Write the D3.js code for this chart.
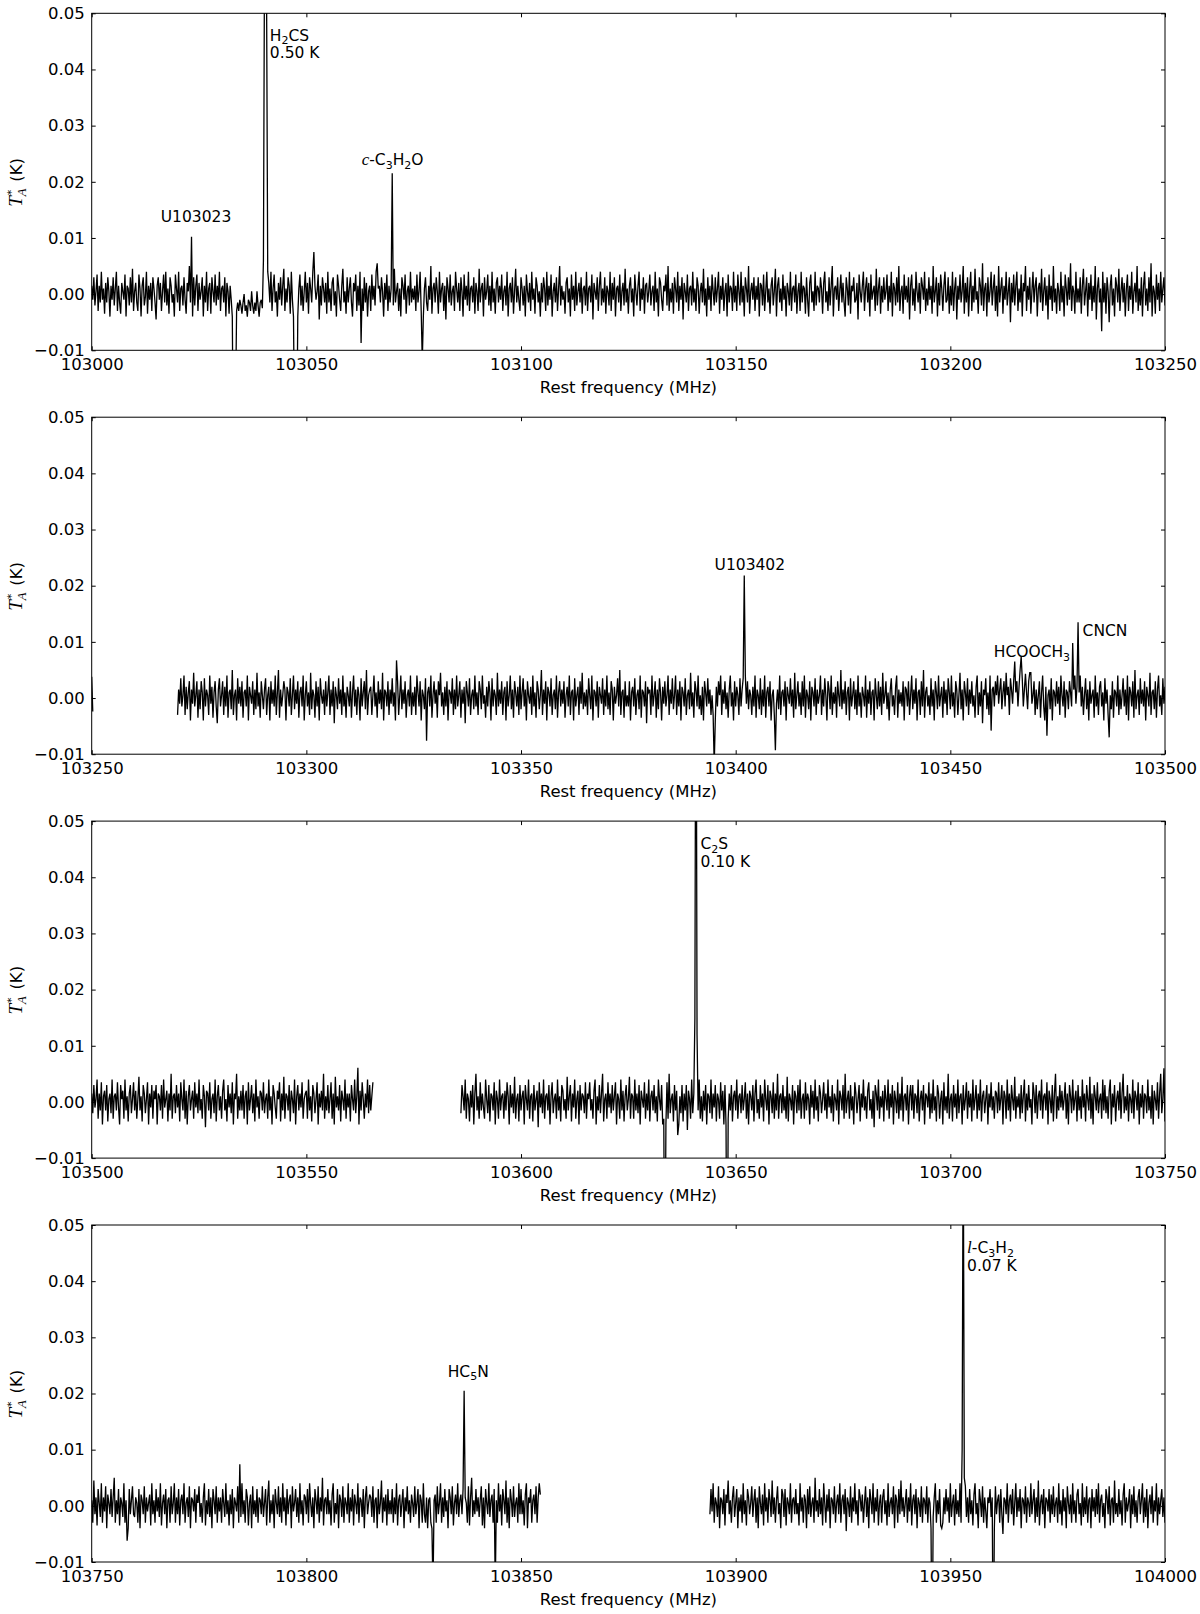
<!DOCTYPE html>
<html>
<head>
<meta charset="utf-8">
<script src="https://cdn.jsdelivr.net/npm/d3@7"></script>
<style>
  body { margin: 0; background: #fff; }
</style>
</head>
<body>
<script>
// channel spacing of the spectra, MHz
const step = 0.25;

// antenna temperature per channel, mK
const seg1 = [
  1.5,-1,3,-2,0.5,3.5,-3,1.5,-1.5,4,-1,1,-3.5,2,-1.5,3,0.5,-4,1.5,-1,
  3,-2,1,4,-3,1.5,-1.5,-3.5,2,0.5,-1,3.5,-4,1.5,1,-2,3,-1.5,4.5,-3,
  0.5,2,-1.5,-3,3.5,1,-4,1.5,3,-2,-0.5,4,-3.5,1.5,-1,2,-3,3,1,-1.5,
  -4.5,1.5,3,-1,2,-3,0.5,3.5,-1.5,4,-2,1,-3.5,3,1.5,-1.5,0,-4,3.5,1,
  -1.5,4,-3,1,1.5,-2,3,-1,-3.5,2,0.5,5,-1.5,1,-4,3,-2,1.5,3.5,-3,
  2,-1,0.5,3,-4,1.5,-1.5,4,-3,1,2,-3.5,3,0.5,-1.5,3.5,-2,1.5,-1,4,
  -3,1,1.5,-1.5,3,-4,2,0.5,-3.5,1.5,-1,3,-2,1,-3,1.5,-1.5,-3,-1,-2,
  -3.5,-1.5,0,-3,-2,-4,-1,-1.5,-3,0.5,-2,-3.5,-1.5,-3,0.5,-2,-4,-1.5,-1,-2.5,
  1.5,-2,3,0.5,-3.5,2,-1.5,4,-3,1,3.5,-1.5,0.5,-4,2,-1,3,-2,1.5,4.5,
  -3,1,-1.5,3,1.5,-3.5,4,-1,0.5,2,-4,3,-1.5,1,3.5,-2,1.5,-3,0.5,4,
  -1.5,2,-3.5,3,1,-1.5,4,-3,1.5,-1,0.5,3.5,-4.5,1.5,-2,3,1,-1.5,2,-3.5,
  4,-1.5,1,-3,2,3,-2,0.5,-4,3.5,1.5,-1,-3,1.5,4.5,-1.5,0.5,-3.5,3,-1.5,
  1,3,-1.5,-4,2,0.5,3.5,-3,1.5,-2,4,-1,1,-3,3,-1.5,2,-4,0.5,1.5,
  -3,3.5,-1,1.5,-2,4,-3.5,1,1.5,-1.5,3,0.5,-4,2,-1,3.5,-3,1.5,-1.5,1,
  3,-2,4.5,-1.5,0.5,2,-3,1,-4,3,1.5,-1,3.5,-3.5,0.5,1.5,-2,4,-1.5,1,
  -1,1.5,-3,3.5,-1.5,0.5,4,-2,2,-4,1,3,-1.5,-3,1.5,-1,5,-3.5,1,2,
  -1.5,3,0.5,-3.5,4,-1.5,1,2,-3,1.5,-4.5,3,1,-1.5,3.5,-2,0.5,1.5,-3,4,
  1,-1.5,2,-3,3,0.5,-4,3.5,-1,1.5,-2,4,-3,1,1.5,-1.5,3,-3.5,2,0.5,
  -3,4.5,-1.5,1,2,-4,3,-1,0.5,3.5,-2,1.5,-3,4,-1.5,1,-3.5,2,3,-1.5,
  1.5,-1,3.5,-3,0.5,1.5,-2,4,-4,1,2,-1.5,3,-3.5,0.5,4.5,-1.5,1.5,-1,-3,
  3,1,-2,1.5,-4,3.5,0.5,-1.5,2,-3,4,-1,1,-3.5,3,1.5,-1.5,0.5,-4,2,
  -1.5,3,1,-3,4,-2,1.5,-1,3.5,-4,0.5,2,-1.5,3,-3,1,5,-2,1.5,-1,
  0.5,-3.5,2,3,-1.5,1,-4,3.5,-1,1.5,-3,4,-2,0.5,2,-1.5,3,-3.5,1,1.5,
  -2,4,-3,1,1.5,-1.5,3.5,-4.5,2,0.5,-1,3,-3,1.5,4,-2,1,-1.5,3,-3.5,
  1.5,0.5,-2,4,-3,2,-1,3,-4,1,1.5,-1.5,3.5,-3,0.5,2,-2,4.5,-1.5,1,
  -3.5,1.5,3,-1.5,1,-4,3.5,0.5,-2,1.5,4,-3,1,-1,3,-3.5,1.5,2,-1.5,0.5,
  3.5,-2,0.5,1.5,-3,4,-1.5,1,-4,3,2,-1,-3,1.5,0.5,3.5,-2,5,-3,1,
  -1.5,2,-3.5,3,1,-1.5,4,-3,1.5,-1,3,-4.5,2,0.5,-1.5,3.5,-3,1,1.5,-2,
  4,-1.5,1,-3,3,1.5,-3.5,0.5,2,-1.5,4.5,-2,1,-4,3,-1,1.5,-3,3.5,0.5,
  -2,3,-1.5,1,4,-3.5,1.5,-1,3,-3,0.5,2,-4,3.5,-1.5,1.5,1,-3,4,-1.5,
  1.5,-3,3.5,0.5,-2,4,-1.5,1.5,-4,3,1,-1.5,5,-3.5,0.5,2,-1,3,-3,1.5,
  -1,3,-4,2,1.5,-2,3.5,-3,0.5,4,-1.5,1,-3.5,1.5,3,-2,0.5,4.5,-4,1.5,
  3,-1.5,1,-3,3.5,-1,1.5,-4,2,0.5,-2,4,-3,1,1.5,-1.5,3.5,-3.5,0.5,2,
  -3,4,-1.5,1.5,1,-3.5,3,-1,-4,2,3.5,-1.5,0.5,-3,4,-2,1.5,1,-1.5,3,
  1,-3.5,2,4,-1.5,0.5,-3,3,-2,1.5,5,-4,1,1.5,-1,3,-3,0.5,3.5,-1.5,
  2,-1.5,-4,3,1,-2,4,-3.5,1.5,0.5,3,-1.5,-1,2,-4.5,3.5,0.5,-1.5,1.5,4,
  -3,1,3,-1.5,2,-4,3.5,-1,0.5,1.5,-3,4.5,-2,1,3,-3.5,1.5,-1.5,3,-1,
  0.5,3.5,-3,1.5,-1.5,4,-4,2,1,-2,3,-1.5,5,-3,0.5,1.5,-3.5,3.5,-1,1.5,
  -1.5,3,-4.5,1.5,3.5,-2,1,-3,4,0.5,-1.5,2,-3.5,3,1.5,-1,4,-3,1,-2,
  3,-1,1.5,-3.5,5,-1.5,0.5,3,-4,2,-2,3.5,1,-3,1.5,4,-1.5,-1,3,-3.5,
  1.5,-2,4,-3,1,3,-4.5,1.5,-1,3.5,-1.5,0.5,5,-3.5,2,-1.5,3,-4,1,4,
  -3,1.5,-1.5,4.5,-1,0.5,-3.5,3,1.5,-2,5.5,-3,1,2,-4,3,-1.5,0.5,4,-2,
  1,3.5,-3,1.5,-4,5,-1.5,1,3,-3.5,1.5,-1,4,-2,0.5,3,-5,2,-1.5,3.5,
  -2,1.5,4,-3,1,-1.5,3.5,-4,2,0.5,5,-3,1.5,-1,3,-3.5,0.5,4,-1.5,1.5,
  3,-4,1,2,-1.5,4.5,-3,0.5,3,-2,1.5,-4.5,3.5,-1,1.5,-3,5,-1.5,1,-3.5,
  2,0.5,-3,4,-1.5,1.5,-4,3.5,1,-2,3,-1,5.5,-3,1.5,0.5,-3.5,4,-1.5,1,
  -1.5,3,-3.5,1.5,4.5,-2,0.5,3,-4,2,-1,3.5,-3,1.5,-1.5,5,-4.5,1,3,-1.5,
  1,-3,4,-1.5,2,-3.5,3,0.5,-5,1.5,3.5,-2,1,-4,3,1.5,-1.5,4.5,-3,0.5,
  3,-1.5,2,-4,1,3.5,-3,1.5,-1,4,-3.5,0.5,2,-1.5,5,-3,1,-2,3,-4,
  1.5,4,-2,1,-3,3,-1.5,5.5,-4,1.5,0.5,-3.5,3.5,-1,2,-3,4,-1.5,1,3,
  -2,1.5,-4,3,1,-1.5,4.5,-3,1.5,0.5,-1,3,-3.5,1.5,1,-1.5,3,-2,0.5,1.5
];
const seg2a = [3.8, -2.4];
const seg2b = [
  -3,1.5,-1,3.5,-1.5,0.5,4,-3,2,-2,1,3,-4,1.5,-1,4.5,-1.5,0.5,3,-3.5,
  1.5,-2,3,1,-4,3.5,-1.5,1.5,0.5,-3,4,-1,2,-3.5,1,3,-1.5,-4.5,1.5,3.5,
  -1.5,0.5,3,-3,2,-1.5,4,-3.5,1,1.5,-2,5,-3,0.5,1.5,-4,3.5,-1,2,-1.5,
  3,-3.5,1,1.5,-1.5,4,-4,2,0.5,-1,3,-3,1.5,-2,4.5,-1.5,1,-3.5,3,0.5,
  -2,1.5,3.5,-3,0.5,2,-4,3,-1,1.5,-1.5,4,-3,1,5,-3.5,1.5,-1.5,0.5,3,
  1.5,-4,2,1,-1.5,3.5,-3,0.5,4,-2,1.5,-1,3,-3.5,1,2,-1.5,4,-4,0.5,
  3,-1.5,1,-3,4.5,-2,1.5,0.5,-3.5,3,-1.5,2,-4,3.5,0.5,-1,1.5,-3,3,-1.5,
  1,4,-3,1.5,-1.5,3,-4.5,2,0.5,-2,3.5,-1,1.5,-3,4,-1.5,1,-3.5,2,0.5,
  -1.5,3,-3.5,1,4,-1.5,1.5,-3,2,0.5,-4,3.5,-1.5,1,3,-2,5,-3,0.5,1.5,
  2,-3,0.5,4,-1.5,1,-3.5,3,-1,1.5,-2,4.5,-4,1.5,1,-1.5,3,-3,1.5,-1,
  3.5,-1.5,1,-4,2,3,-3,0.5,4,-2,1.5,-1,3,-3.5,0.5,1.5,-1.5,4,-3,1,
  -1.5,2,-3,4,1,-1.5,3,-4,1.5,0.5,-2,3.5,-3,1,2,-1.5,4,-3.5,0.5,3,
  -1,1.5,-3.5,3,0.5,4.5,-1.5,1,-3,2,-1.5,3,-4,1.5,1,-1,3.5,-3,1.5,-2,
  4,-1.5,0.5,3,-3.5,1.5,-1,2,-4.5,3,1,-1.5,3.5,-3,0.5,1.5,-2,4,-1.5,1,
  -3,3,1.5,-2,4,-1,0.5,-3.5,2,-1.5,3,1,-4,3.5,-1.5,1.5,0.5,-3,4.5,-1.5,
  1.5,-1,3,-3,1,2,-4,3,-1.5,0.5,4,-2,1.5,-3.5,3,1,-1.5,2,-3,4,
  -2,1,3.5,-1.5,1.5,-4,3,0.5,-1,2,-3,4,-1.5,1,-3.5,3,1.5,-2,0.5,5,
  -3,1.5,-1,3,-4,2,1,-1.5,3.5,-3,0.5,1.5,-2,4,-3.5,1,3,-1.5,1.5,-1,
  3,-3.5,0.5,2,-1.5,4,-3,1,1.5,-4,3.5,-1.5,0.5,2,-3,3,-1,4.5,-2,1,
  -1.5,1.5,-3,3.5,0.5,-2,4,-4,1.5,1,-1.5,3,-3.5,2,0.5,-1,3.5,-3,1.5,-1.5,
  4,-2,1,-3,3,1.5,-4,2,-1,0.5,3.5,-1.5,5,-3,1,1.5,-3.5,3,-1.5,0.5,
  -1.5,3,-4,1,2,-1.5,3.5,-3,0.5,1.5,-2,4,-3.5,1.5,1,-1.5,3,-4.5,2,1,
  1.5,-3,4,-1.5,0.5,3,-3.5,1.5,-2,3.5,1,-4,2,-1,3,-1.5,0.5,4,-3,1.5,
  -1,3.5,-2,0.5,4,-3,1.5,-1.5,3,-4,2,1,-1.5,3.5,-3,0.5,1.5,-2,4.5,-1.5,
  1,-3.5,3,1.5,-1.5,4,-2,0.5,-3,2,-4,3,1,-1.5,3.5,-1,1.5,-3,0.5,2,
  -3,-4,2,-1.5,3,0.5,4,-3,1.5,-1,3,-2,1,-3.5,1.5,4,-1.5,1,-4,3,
  -1.5,2,0.5,-3,3.5,-1.5,1.5,-4,3,1,-1,3,-2,1.5,0.5,-3,2,-1.5,4,-3.5,
  1.5,0.5,-2,3.5,-3,1.5,-1.5,4,-3.5,1,2,-1.5,3,-4,0.5,1.5,-3,3.5,-1,1.5,
  -2,4,-3,1,1.5,-1.5,3,-4,2,0.5,-1,3.5,-1.5,1.5,-3.5,4.5,-2,0.5,3,-1.5,
  1,-3,3,-1.5,4,-3.5,1.5,0.5,-2,3,-4,2,1,-1.5,3.5,-3,1.5,-1,0.5,4,
  -3,1.5,-1.5,3.5,0.5,-4,3,1.5,-2,4,-3,1,-1,2,-3.5,3,0.5,-1.5,5,-2,
  1.5,-1,3,-3,1,2,-4,3.5,-1.5,0.5,3,-2,1.5,-3,4,-1.5,1,-3.5,2,0.5,
  -1.5,4,-3.5,1.5,-1,3,-3,1,1.5,-4,3.5,0.5,-2,3,-1.5,2,-3,4.5,-1,0.5,
  3,-2,1,-4,1.5,3.5,-1.5,0.5,-3,2,4,-3.5,1.5,-1,1,-1.5,3,-4,2,1.5,
  -1.5,3,-3,0.5,4,-2,1.5,-1,3.5,-4,1,1.5,-3,3,-1.5,5,-3.5,1,2,-1.5,
  0.5,-3,3.5,-1.5,1.5,-4,3,1,-2,4,-1.5,0.5,2,-3.5,3,-1,1.5,-3,3.5,1,
  -2,4,-1.5,1,-3.5,3,1.5,-3,0.5,4.5,-2,1.5,-4,3,1,-1.5,3.5,-3,1.5,-1,
  3,-1.5,0.5,-3.5,2,4,-3,1,-1.5,3,-4.5,1.5,0.5,3.5,-2,1,-3,4,-1.5,1.5,
  2,-1.5,3,0.5,4,-1,1.5,3.5,-2,1,3,-1.5,4.5,0.5,2,-3,3.5,1.5,-1,3,
  4,1,3,-1.5,2,5,0.5,3.5,-1.5,1.5,4,1,-2,3,1.5,4.5,-1,0.5,3,-3,
  1.5,-2,0.5,3,-3.5,1,4,-1.5,-4,2,-3,0.5,1.5,-2,3.5,-4,1.5,1,-1.5,3,
  -1,2,-3,4,0.5,-1.5,3,-3.5,1.5,1,-2,3,1,-1.5,3.5,1.5,4,-1,2,3,
  1,4,-1.5,2,-3,0.5,3.5,-2,1.5,-4,3,-1,0.5,1.5,-3.5,4,-1.5,1,-3,2,
  3,-1.5,1,-4,3.5,-1,1.5,-3,4.5,0.5,-2,3,-3.5,1.5,1,-1.5,4,-3,1.5,-2,
  0.5,3.5,-1.5,1.5,-3,4,-4,2,1,-1.5,3,-3.5,5,-2,0.5,1.5,-3,3.5,-1,1.5,
  -1.5,3,-4,2,0.5,-1.5,4.5,-3,1,1.5,-2,3,-3.5,1.5,4,-1.5,0.5,-3,3.5,-1,
  2,-3,1.5,0.5,4,-2,3,-1.5,1,-3.5,1.5,3,-1.5,1,-3,4,-1.5,2,0.5,-1.5
];
const seg3a = [
  1.5,-2,3,-1,0.5,4,-3,1.5,-1.5,3.5,-4,1,2,-1.5,3,-3.5,0.5,1.5,-2,4,
  -3,1,1.5,-1.5,3.5,-1,-4,3,0.5,2,-3,4,-1.5,1,-3.5,1.5,3,-2,0.5,3.5,
  -1.5,2,-3,0.5,4.5,-1.5,1,-3.5,3,1.5,-2,0.5,3.5,-4,1.5,-1,3,-3,2,0.5,
  3,-4,1.5,1,-1.5,3,-3,4,-1,0.5,2,-3.5,1.5,-1.5,5,-3,1,1.5,-2,3,
  -1,1.5,-3.5,3.5,0.5,-1.5,4,-3,2,-4,1,3,-1.5,0.5,2,-3,3.5,-1,1.5,-2,
  4,-1.5,0.5,-3,3,1,-4.5,2,1.5,-1.5,3.5,-3,0.5,1.5,-2,4,-3.5,1,3,-1.5,
  1,-3,2,4,-1.5,0.5,-3.5,3,-1,1.5,-2,3.5,-4,1.5,0.5,5,-3,1,-1.5,2,
  -1.5,3,-3,1,2,-4,3.5,-1.5,0.5,3,-2,1.5,-3.5,4,-1,1,-3,2,1.5,-1.5,
  3.5,-2,0.5,1.5,-3,4,-1.5,1,-4,3,1.5,-1,-3,2,0.5,3.5,-3.5,1.5,-1.5,4.5,
  -3,1.5,1,-1.5,3,-3.5,2,0.5,-2,4,-4,1,3,-1.5,1.5,-1,3.5,-3,0.5,1.5,
  2,-3,4,-1.5,1,-3.5,3,1.5,-2,0.5,3.5,-4,1.5,-1,2,-1.5,5,-3,1,-1.5,
  3,-2,0.5,3.5,-3,1.5,-4,4.5,-1,1,-1.5,3,-3.5,2,0.5,-1.5,4,-3,1.5,-1,
  1.5,-3.5,3,0.5,-1.5,4,-2,1,3,-4,2,-1.5,3.5,0.5,-3,1.5,-1,4,-2,3,
  -1.5,1,3.5,-3,1.5,-1,4,-3,0.5,2,-1.5,3,-4,1.5,1,-2,3,-1.5,0.5,1.5
];
const seg3b = [
  -2,3,1,-1.5,4,-3,1.5,0.5,-3.5,2,-1,3,-4,1.5,5,-1.5,1,-3,3.5,-1.5,
  1.5,-1,-3,4,0.5,-2,3,-3.5,1.5,1,-1.5,3.5,-4,2,0.5,-3,4,-1.5,1,1.5,
  -3,2,-1.5,3.5,1,-4,3,-1,1.5,-2,4.5,-3,0.5,1.5,-3.5,3,-1.5,1,2,-4,
  3,0.5,-1.5,4,-3,1,1.5,-3.5,3,-1.5,0.5,2,-4.5,3.5,-1,1.5,-2,4,-3,1,
  1.5,-1.5,3,-4,1,3.5,-2,0.5,1.5,-3,4,-1.5,1,-3.5,3,2,-1.5,0.5,-3,4.5,
  -1.5,1,3,-3.5,1.5,-1,4,-3,0.5,2,-4,3,-1.5,1.5,1,-2,3.5,-3,1.5,0.5,
  3.5,-1.5,0.5,-3,2,4,-4,1,-1.5,3,-2,1.5,5,-3.5,0.5,1.5,-3,3.5,-1,1.5,
  -2,3,-1.5,1,3.5,-4,1.5,0.5,-3,4,-1.5,2,-3.5,1,3,-1.5,0.5,4.5,-3,1.5,
  1,-3,4,-1.5,1.5,-2,3,-4,2,0.5,-1,3.5,-3,1.5,-1.5,4,-3.5,1,2,-1.5,
  3,-2,1,-3.5,4,0.5,-1.5,3,-4,1.5,1,-1.5,3.5,-3,5,-2,0.5,1.5,-3.5,3,
  -1.5,2,-3,-4,1,-2,3,-3.5,1.5,-1.5,3,-5,2,0.5,-3,4,-2,1.5,-4,3.5,
  1.5,-1.5,4,-3,1,-3.5,2,-1.5,3,-4,1.5,1,-2,4,-3,1.5,-1,3,-3.5,1.5,
  0.5,-3,3.5,-1.5,2,-4,3,0.5,-2,-3,1.5,-1.5,3,-3.5,1,2,-1.5,4,-3,1,
  1.5,-2,3,-1.5,0.5,3.5,-3,1.5,-4,2,1,-1.5,3,-3.5,1.5,4,-2,0.5,-3,3,
  -1,1.5,-3.5,4,0.5,-1.5,3,-4,2,1,-2,3.5,-3,1.5,-1.5,5,-3,1,1.5,-2,
  3,-1.5,1,-3,4.5,-3.5,1.5,0.5,-1.5,3,-4,2,1,-2,3,-1.5,4,-3,0.5,1.5,
  -3,3.5,-1.5,1.5,0.5,-4,3,-1,2,-3,4,-1.5,1,-3.5,3,1.5,-2,0.5,3.5,-1.5,
  1.5,-3,4,-1,1,-2,3,-3.5,1.5,0.5,-1.5,4,-4,2,1,-1.5,3,-3,5,-2,
  0.5,2,-3,3,-1.5,1,-4,3.5,1.5,-2,0.5,3,-3.5,1.5,-1,4,-1.5,1,-3,2,
  3.5,-1.5,0.5,-3,2,-4.5,3,1.5,-1.5,4,-3,1,-1,2,-3.5,3,0.5,-1.5,4,-3,
  1.5,-1,3,-4,2,0.5,-2,3.5,-3,1.5,-1.5,4.5,-3.5,1,1.5,-1.5,3,-4,1,3,
  -1.5,3,-3,1.5,1,-2,4,-3.5,0.5,2,-1.5,3,-4,1.5,1,-1,3.5,-3,1.5,-2,
  4,-1.5,1,-3.5,3,1.5,-3,0.5,2,-4,3.5,-1.5,1,-2,5,-3,0.5,1.5,-3.5,3,
  -1,1.5,-3,4,-2,1,1.5,-4,3,-1.5,0.5,3.5,-3,2,-1,1.5,-3.5,4,-1.5,0.5,
  3,-3,1.5,-1.5,4,-3.5,1,2,-2,0.5,3,-4,1.5,-1,3.5,-1.5,1,-3,2,1.5,
  -2,3.5,-1.5,0.5,3,-4,2,1,-3,4,-1.5,1.5,-3.5,3,0.5,-1.5,4.5,-3,1,-1,
  1.5,-3,3,-2,1,4,-3.5,1.5,-1.5,3,-1,0.5,-4,3.5,1.5,-2,3,-3,1,2,
  -1.5,4,-3,1,1.5,-1.5,3.5,-4,2,0.5,-2,3,-3.5,1.5,5,-3,1,-1.5,3,-1,
  2,-1.5,0.5,3.5,-3,1.5,-4,3,1,-2,4,-1.5,0.5,2,-3.5,3,-1.5,1,-3,4,
  -1,1.5,-3.5,3,0.5,-1.5,4.5,-3,1.5,-4,3,1,-1.5,3.5,-2,0.5,1.5,-3,4,-1.5,
  3,-2,1,-3,2,4,-4,1.5,-1,3,-3.5,0.5,2,-1.5,3.5,-3,1.5,5,-2,1,
  -1.5,3,-3.5,1.5,0.5,-2,4,-3,2,1,-1.5,3.5,-4,1.5,-1,3,-3,1.5,1,-2,
  4,-1.5,1,-3,3,-4,2,0.5,-1.5,3.5,-3,1.5,5,-2,0.5,6,-3.5,3,-1.5,1.5
];
const seg4a = [
  1,-3,4.5,-1.5,1.5,-3.5,3,0.5,-2,4,-3,1.5,-1,3.5,-4,2,0.5,-1.5,3,-2,
  1.5,5,-3,1,-1.5,3,-3.5,1.5,0.5,-2,4,-3,1,2,-4,3,-1.5,1,3.5,-1.5,
  -2,1.5,0.5,-3,3,-4,2,1,-1.5,3.5,-3,1.5,-1,0.5,2,-3.5,4,-1.5,1,-3,
  3,-1,1.5,-2,4,-3.5,0.5,2,-1.5,3,-4,1,1.5,-3,3.5,-1.5,0.5,4,-3,1.5,
  -1.5,3,-3.5,1,2,-1.5,4,-3,0.5,1.5,-2,3.5,-4,1.5,1,-1,3,-3,2,0.5,
  3.5,-2,0.5,-3,1.5,4,-3.5,1,-1.5,3,-2,1.5,-4,3,1,-1.5,3.5,-3,1.5,-1,
  1.5,-3,3,0.5,-2,4,-1.5,1,-3.5,2,-1.5,3,-4,1.5,0.5,-1,3.5,-3,1.5,-2,
  4,-1.5,1,-3,3,1.5,-3.5,0.5,2,-4,3.5,-1.5,1,-2,3,-3,1.5,1,-1.5,3.5,
  -2,0.5,3,-3.5,1.5,4.5,-3,1,-1.5,2,-4,3,0.5,-1.5,3.5,-2,1.5,-3,4,-1,
  1.5,-3.5,3,-1.5,1,2,-4,3.5,-1,0.5,3,-2,1.5,-3,4,-1.5,1,-3.5,2,1.5,
  -1.5,3,-3,4,0.5,-2,1.5,-4,3,1,-1.5,3.5,-3,1.5,-1,5,-3.5,1,1.5,-1.5,
  3,-1.5,1,-3.5,2,4,-3,0.5,-1.5,3,-4,2,1,-2,3.5,-3,1.5,0.5,-1.5,4,
  -3,1.5,-1,3,-3.5,2,0.5,-1.5,4,-3,1.5,1,-2,3,-4,1.5,3.5,-1.5,0.5,2,
  1.5,-2,3.5,-3,1,1.5,-4,3,-1.5,0.5,4.5,-3,1.5,-1,2,-3.5,3,-1.5,1,-1.5,
  3,-3,1.5,-1.5,4,-3.5,1,2,-2,0.5,3,-4,1.5,-1,3.5,-1.5,1,-3,2,0.5,
  -2,3.5,-1.5,0.5,3,-4,2,1,-3,4,-1.5,-3,1.5,-4,1,1.5,-3,3.5,-1.5,1,
  2,-3,3.5,-1.5,0.5,4,-3,1.5,-2,3,-1,1,-4,3,1.5,-1.5,3.5,-3.5,0.5,2,
  -1.5,4,-2,1,2,-1.5,3,-4,1.5,0.5,-3,3.5,-3.5,1.5,5,-2,1,-1.5,3,-1,
  1.5,-2,1,3.5,-3.5,1.5,-4,3,0.5,-1.5,4,-2,1,2,-3,3,-1.5,1,-3,4,
  -1,2,-3.5,3,1,-1.5,4.5,-3,1.5,-4,3,1,-2,3.5,-2,0.5,1.5,-3,4,-1.5,
  3,-1.5,1,-3.5,2,4,-4,1.5,0.5,3,-3,1,2,-1.5,3.5,-3,1.5,4,2,1
];
const seg4b = [
  -1.5,3,-1,4,-3,1.5,0.5,-2,3.5,-4,1.5,1,-1.5,3,-3.5,2,0.5,4.5,-1.5,1,
  -3,1.5,3.5,-2,0.5,3,-4,1.5,-1,2,-3,4,-1.5,1,-3.5,3,1.5,-1.5,0.5,3.5,
  -2,1,3,-3,1.5,-4,3.5,0.5,-1.5,2,-3.5,4,-1,1.5,-3,3,1,-2,4.5,-1.5,
  1.5,-3,1,3.5,-1.5,0.5,-4,3,2,-2,3,-3.5,1.5,0.5,-1.5,4,-3,1,1.5,-1.5,
  3,-1.5,0.5,-3.5,4,-1,1.5,-3,2,1,-4,3,-1.5,3.5,-2,0.5,1.5,-3,5,-1,
  1,-2,3,-1.5,1.5,-3.5,4,0.5,-3,2,-1,3,-4,1.5,1,-1.5,3.5,-3,0.5,2,
  -1.5,4,-3,1,2,-1.5,3,-4.5,1.5,0.5,-2,3.5,-3,1.5,-1,4,-1.5,1,-3.5,3,
  1.5,-1,2,-3,0.5,3.5,-2,1.5,-4,3,1,-1.5,4,-3,1.5,-1,3,-3.5,0.5,2,
  -3,1.5,3,-1.5,1,-3.5,4,-2,0.5,1.5,-1.5,3.5,-4,2,1,-3,3,-1.5,4.5,-1,
  1.5,-2,0.5,3,-3,1.5,-1,4,-3.5,1,2,-1.5,3,-4,1.5,0.5,-2,3.5,-3,1.5,
  1,-1.5,3.5,-3,1.5,0.5,-4,3,-2,1.5,4,-3,1,-1.5,3,-3.5,-4,-3,1.5,-1.5,
  3,-1,1.5,-3,4,-2,0.5,2,-3.5,3,-1.5,1,-2,4,-3,1.5,0.5,-1.5,3.5,-2,
  1.5,-3,3,-1.5,1,-3.5,2,4,-1.5,0.5,-4,3,1,-2,3.5,-3,1.5,-1,-4,1.5,
  0.5,3,-2,1.5,-3,-4,3.5,-1.5,1,2,-3,3,-1.5,-5,1.5,1,-1.5,4,-3,1,
  2,-1.5,3,-3.5,0.5,4,-2,1.5,-1,3,-4,1.5,1,-1.5,3.5,-3,1.5,0.5,-2,4,
  -1.5,1,3,-3,1.5,-2,4.5,-3.5,0.5,2,-1.5,3,-4,1.5,1,-1,3,-3,2,-1.5,
  3.5,-2,0.5,1.5,-3,4,-1.5,1,-3.5,3,-1,1.5,-4,3.5,0.5,-1.5,2,-3,4,-1.5,
  1,-3,2,3,-1.5,0.5,-3.5,4,-2,1.5,-1.5,3.5,-3,1,1.5,-4,3,-1,1.5,-2,
  3,-1.5,4,-3,1,2,-2,0.5,-4,3,1.5,-1.5,3.5,-3.5,1,1.5,-3,4.5,-1.5,0.5,
  -2,3,-1.5,1,-3.5,2,4,-3,1.5,-1,0.5,3,-4,2,-1.5,3.5,-2,1,-3,1.5,
  3,-1.5,1,4,-3,1.5,-2,3,-4,0.5,2,-1.5,3.5,-3,1,-1,4,-3.5,1.5,-1.5,
  1,3,-2,1.5,-3,3.5,-1,0.5,2,-1.5,3,-3.5,1.5,1,-1.5,3,-2,1.5,0.5,-1.5
];

// emission lines and frequency-switching ghosts: [MHz, mK]
const lines1 = [
  [103023.25, 10.2], [103032.75, -4], [103033.0, -30], [103033.25, -40], [103033.5, -20], [103033.75, -3],
  [103040.0, 6], [103040.25, 60], [103040.5, 500], [103040.75, 50], [103041.0, 4],
  [103047.0, -4], [103047.25, -25], [103047.5, -40], [103047.75, -30], [103048.0, -4],
  [103051.75, 7.5], [103062.75, -8.7], [103066.5, 5.5], [103070.0, 21.5],
  [103076.75, -3], [103077.0, -12], [103077.25, -4], [103235.25, -6.6]
];
const lines2 = [
  [103321.0, 6.7], [103328.0, -7.6], [103394.75, -3], [103395.0, -12],
  [103401.75, 3.5], [103402.0, 21.8], [103402.25, 4], [103409.25, -9.3],
  [103459.5, -5.8], [103465.0, 6.5], [103466.5, 7.4], [103467.5, 4.3], [103468.5, 4.5],
  [103472.5, -6.7], [103478.5, 9.8], [103479.75, 13.5], [103487.0, -7.0]
];
const lines3 = [
  [103562.0, 6.1], [103633.25, -3], [103633.5, -40], [103633.75, -4], [103636.5, -5.9],
  [103640.5, 15], [103640.75, 100], [103641.0, 12],
  [103647.75, -4], [103648.0, -40], [103648.25, -3]
];
const lines4 = [
  [103758.25, -6.2], [103784.5, 7.4], [103829.25, -4], [103829.5, -15],
  [103836.75, 20.5], [103844.0, -15], [103945.5, -4], [103945.75, -30],
  [103952.75, 10], [103953.0, 70], [103953.25, 5], [103960.0, -30]
];

// frequency coverage of each backend segment
const segments = [
  { panel: 0, start: 103000, end: 103251, values: seg1 },
  { panel: 1, start: 103250, end: 103250.25, values: seg2a },
  { panel: 1, start: 103270, end: 103501, values: seg2b },
  { panel: 2, start: 103500, end: 103565.5, values: seg3a },
  { panel: 2, start: 103586, end: 103751, values: seg3b },
  { panel: 3, start: 103750, end: 103854.5, values: seg4a },
  { panel: 3, start: 103894, end: 104000, values: seg4b }
];

const panelStart = [103000, 103250, 103500, 103750];
const span = 250;
const xTicks = [0, 50, 100, 150, 200, 250];
const yTicks = [-0.01, 0, 0.01, 0.02, 0.03, 0.04, 0.05];

// annotations: position in data units, text pieces ("sub" = subscript, "it" = math italic)
const labels = [
  { panel: 0, f: 103024.3, t: 0.01276, anchor: "middle", rows: [[["U103023"]]] },
  { panel: 0, f: 103041.5, t: 0.04512, anchor: "start", rows: [[["H"], ["2", "sub"], ["CS"]], [["0.50 K"]]] },
  { panel: 0, f: 103070.1, t: 0.02299, anchor: "middle", rows: [[["c", "it"], ["-C"], ["3", "sub"], ["H"], ["2", "sub"], ["O"]]] },
  { panel: 1, f: 103403.3, t: 0.02281, anchor: "middle", rows: [[["U103402"]]] },
  { panel: 1, f: 103477.9, t: 0.00727, anchor: "end", rows: [[["HCOOCH"], ["3", "sub"]]] },
  { panel: 1, f: 103480.8, t: 0.01111, anchor: "start", rows: [[["CNCN"]]] },
  { panel: 2, f: 103641.8, t: 0.0450, anchor: "start", rows: [[["C"], ["2", "sub"], ["S"]], [["0.10 K"]]] },
  { panel: 3, f: 103837.7, t: 0.02299, anchor: "middle", rows: [[["HC"], ["5", "sub"], ["N"]]] },
  { panel: 3, f: 103953.9, t: 0.04496, anchor: "start", rows: [[["l", "it"], ["-C"], ["3", "sub"], ["H"], ["2", "sub"]], [["0.07 K"]]] }
];

// put the line channels into the segments
[lines1, lines2, lines3, lines4].flat().forEach(([f, v]) => {
  const s = segments.find(s => f >= s.start && f <= s.end);
  if (s) s.values[Math.round((f - s.start) / step)] = v;
});

const width = 1200, height = 1614;
const left = 91.7, plotW = 1073.3, plotH = 337;
const top0 = 13.3, gap = 403.9;
const font = "'DejaVu Sans', sans-serif";
const mathFont = "'Liberation Serif', 'DejaVu Serif', serif";

const svg = d3.select("body").append("svg")
  .attr("width", width)
  .attr("height", height)
  .style("display", "block")
  .style("background", "#fff");

panelStart.forEach((f0, p) => {
  const g = svg.append("g").attr("transform", `translate(${left},${top0 + p * gap})`);

  const x = d3.scaleLinear().domain([f0, f0 + span]).range([0, plotW]);
  const y = d3.scaleLinear().domain([-0.01, 0.05]).range([plotH, 0]);

  g.append("clipPath").attr("id", "clip" + p)
    .append("rect").attr("width", plotW).attr("height", plotH);

  // spectrum
  const line = d3.line().x(d => x(d.f)).y(d => y(d.v / 1000));
  g.append("g").attr("clip-path", `url(#clip${p})`)
    .selectAll("path")
    .data(segments.filter(s => s.panel === p))
    .join("path")
    .attr("fill", "none")
    .attr("stroke", "#000")
    .attr("stroke-width", 1.3)
    .attr("d", s => line(s.values
      .map((v, i) => ({ f: s.start + i * step, v }))
      .filter(d => d.f <= s.end + 1e-6)));

  // axes, matplotlib style ticks pointing inwards
  const xt = xTicks.map(d => f0 + d);
  const styleAxis = a => {
    a.select(".domain").remove();
    a.selectAll("line").attr("stroke", "#000");
    a.selectAll("text").attr("fill", "#000").style("font-family", font).style("font-size", "16.5px");
  };
  g.append("g").attr("transform", `translate(0,${plotH})`)
    .call(d3.axisBottom(x).tickValues(xt).tickFormat(d3.format("d")).tickSize(-4).tickPadding(8))
    .call(styleAxis);
  g.append("g")
    .call(d3.axisTop(x).tickValues(xt).tickFormat("").tickSize(-4))
    .call(styleAxis);
  g.append("g")
    .call(d3.axisLeft(y).tickValues(yTicks).tickFormat(d3.format(".2f")).tickSize(-4).tickPadding(7))
    .call(styleAxis);
  g.append("g").attr("transform", `translate(${plotW},0)`)
    .call(d3.axisRight(y).tickValues(yTicks).tickFormat("").tickSize(-4))
    .call(styleAxis);

  g.append("rect")
    .attr("width", plotW).attr("height", plotH)
    .attr("fill", "none").attr("stroke", "#000").attr("stroke-width", 1);

  // x label
  g.append("text")
    .attr("x", plotW / 2).attr("y", plotH + 43)
    .attr("text-anchor", "middle")
    .style("font-family", font).style("font-size", "16.5px")
    .text("Rest frequency (MHz)");

  // y label  T*_A (K)
  const yl = g.append("g").attr("transform", `translate(${22 - left},${plotH / 2}) rotate(-90)`);
  yl.append("text").attr("x", -25).attr("y", 0)
    .style("font-family", mathFont).style("font-style", "italic").style("font-size", "19px").text("T");
  yl.append("text").attr("x", -13.5).attr("y", -7)
    .style("font-family", font).style("font-size", "11px").text("*");
  yl.append("text").attr("x", -14.5).attr("y", 4)
    .style("font-family", mathFont).style("font-style", "italic").style("font-size", "12.5px").text("A");
  yl.append("text").attr("x", 0).attr("y", 0)
    .style("font-family", font).style("font-size", "16.5px").text("(K)");

  // line annotations
  labels.filter(l => l.panel === p).forEach(l => {
    l.rows.forEach((row, r) => {
      const t = g.append("text")
        .attr("x", x(l.f)).attr("y", y(l.t) + r * 17.6)
        .attr("text-anchor", l.anchor)
        .style("font-family", font).style("font-size", "15.5px");
      let shift = 0;
      row.forEach(([s, kind]) => {
        const sp = t.append("tspan").text(s);
        const target = kind === "sub" ? 3.5 : 0;
        sp.attr("dy", target - shift);
        shift = target;
        if (kind === "sub") sp.style("font-size", "11px");
        if (kind === "it") sp.style("font-family", mathFont).style("font-style", "italic").style("font-size", "17px");
      });
    });
  });
});
</script>
</body>
</html>
